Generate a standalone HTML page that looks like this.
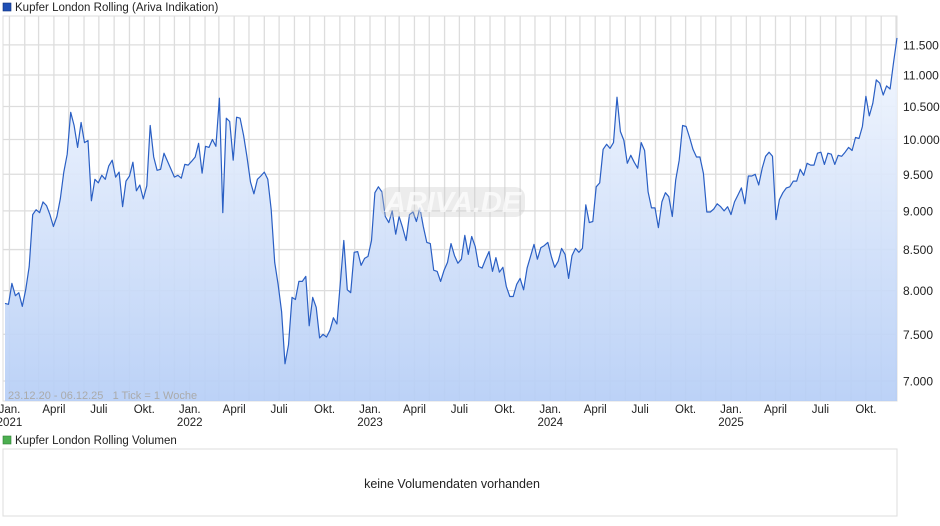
<!DOCTYPE html>
<html><head><meta charset="utf-8"><style>
body{margin:0;background:#fff;font-family:"Liberation Sans",sans-serif;}
svg{display:block}
</style></head><body>
<svg id="chart" width="940" height="526" viewBox="0 0 940 526" font-family="Liberation Sans, sans-serif">
<defs>
<linearGradient id="fillg" x1="0" y1="0" x2="0" y2="1">
<stop offset="0" stop-color="#f3f7fe"/><stop offset="1" stop-color="#b6cef6"/>
</linearGradient>
</defs>
<rect x="3" y="3" width="8" height="8" fill="#1f4fb5" stroke="#0d2f7a" stroke-width="0.6"/>
<text x="15" y="11" font-size="11.5" fill="#222">Kupfer London Rolling (Ariva Indikation)</text>
<rect x="3" y="16" width="894" height="385" fill="#fff" stroke="#ddd"/>
<g id="grid"></g>
<g id="series"></g>
<rect x="380" y="187" width="145" height="30" rx="10" fill="#c8c8c8" fill-opacity="0.35"/>
<text x="453" y="212" font-size="29" font-weight="bold" font-style="italic" fill="#fff" fill-opacity="0.7" text-anchor="middle">ARIVA.DE</text>
<text x="8" y="399" font-size="11" fill="#aaa" style="white-space:pre">23.12.20 - 06.12.25   1 Tick = 1 Woche</text>
<g id="yaxis"></g>
<g id="xaxis"></g>
<rect x="3" y="436" width="8" height="8" fill="#4caf50" stroke="#2e7d32" stroke-width="0.6"/>
<text x="15" y="444" font-size="11.5" fill="#222">Kupfer London Rolling Volumen</text>
<rect x="3" y="449" width="894" height="67" fill="#fff" stroke="#ddd"/>
<text x="452" y="488" font-size="12.5" fill="#222" text-anchor="middle">keine Volumendaten vorhanden</text>
</svg>
<script>
const prices=[7850,7840,8085,7940,7975,7815,8010,8290,8950,9015,8975,9120,9070,8950,8795,8925,9160,9530,9785,10410,10210,9885,10255,9955,9985,9135,9430,9380,9485,9430,9615,9700,9460,9530,9055,9405,9475,9670,9270,9350,9160,9340,10210,9745,9555,9570,9800,9685,9570,9460,9485,9445,9640,9630,9685,9745,9945,9515,9900,9885,10000,9900,10630,8975,10320,10270,9700,10335,10320,10060,9745,9390,9230,9430,9475,9530,9430,9015,8340,8075,7755,7180,7385,7920,7895,8110,8110,8170,7595,7920,7805,7460,
7500,7470,7545,7685,7615,8100,8615,8010,7975,8465,8475,8305,8390,8415,8615,9245,9325,9255,8925,8845,9000,8695,8925,8780,8615,8950,8985,8860,9040,8795,8590,8575,8245,8230,8110,8245,8340,8575,8425,8330,8380,8680,8440,8665,8540,8290,8270,8380,8475,8230,8400,8220,8280,8050,7930,7930,8075,8145,8010,8270,8415,8565,8380,8525,8550,8590,8415,8280,8355,8515,8440,8145,8425,8515,8465,8515,9080,8845,8860,9325,9380,9855,9930,9870,9955,10645,10120,
9985,9655,9770,9670,9585,9955,9840,9255,9040,9040,8780,9120,9245,9190,8925,9420,9700,10210,10195,10030,9855,9745,9745,9515,8985,8985,9025,9095,9055,9000,9055,8950,9120,9215,9310,9095,9475,9475,9500,9350,9585,9755,9815,9755,8885,9150,9245,9310,9325,9405,9405,9570,9485,9655,9630,9630,9800,9815,9640,9800,9785,9640,9770,9755,9815,9885,9840,10030,10015,10195,10660,10355,10550,10920,10870,10680,10825,10775,11200,11620];
const yTicks=[7000,7500,8000,8500,9000,9500,10000,10500,11000,11500];
const yTickLabels=["7.000","7.500","8.000","8.500","9.000","9.500","10.000","10.500","11.000","11.500"];
const monthLabels=["Jan.","April","Juli","Okt."];
const years=[2021,2022,2023,2024,2025];
const startDate=new Date(2020,11,23);
const NS="http://www.w3.org/2000/svg";
const X0=5,X1=897,PT=16,PB=401;
const weekPx=(X1-X0)/(prices.length-1);
function xIdx(i){return X0+i*weekPx;}
function xDate(d){return X0+(d-startDate)/(7*864e5)*weekPx;}
function yS(v){return 381-677*Math.log(v/7000);}
function mk(tag,attrs,parent){const e=document.createElementNS(NS,tag);for(const k in attrs)e.setAttribute(k,attrs[k]);parent.appendChild(e);return e;}
const grid=document.getElementById('grid'),series=document.getElementById('series'),yax=document.getElementById('yaxis'),xax=document.getElementById('xaxis');
yTicks.forEach((v,i)=>{
 const y=yS(v);
 const l=mk('line',{x1:3,x2:897,y1:y,y2:y,stroke:'#ddd','stroke-width':1.3},grid);
 
 
 const t=mk('text',{x:903,y:y+4.5,'font-size':12,fill:'#222'},yax);
 t.textContent=yTickLabels[i];
 
 
});
for(let yr=2021;yr<=2025;yr++){for(let m=0;m<12;m++){
 const x=xDate(new Date(yr,m,1)); if(x>X1)continue;
 const l=mk('line',{x1:x,x2:x,y1:PT,y2:PB,stroke:'#ddd','stroke-width':1.3},grid);
 
 
 if(m%3===0){
  const t=mk('text',{x:x,y:413,'font-size':11.5,fill:'#222','text-anchor':'middle'},xax);
  t.textContent=monthLabels[m/3];
  
  
  if(m===0){
   const t2=mk('text',{x:x,y:426,'font-size':11.5,fill:'#222','text-anchor':'middle'},xax);
   t2.textContent=String(years[yr-2021]);
   
   
  }
 }
}}
let d='';prices.forEach((v,i)=>{d+=(i?'L':'M')+xIdx(i).toFixed(1)+','+yS(v).toFixed(1);});
const area=mk('path',{d:d+'L'+xIdx(prices.length-1)+','+PB+'L'+X0+','+PB+'Z',fill:'url(#fillg)','fill-opacity':0.92},series);


const line=mk('path',{d:d,fill:'none',stroke:'#2a5fc4','stroke-width':1.2,'stroke-linejoin':'round'},series);


</script>
</body></html>
